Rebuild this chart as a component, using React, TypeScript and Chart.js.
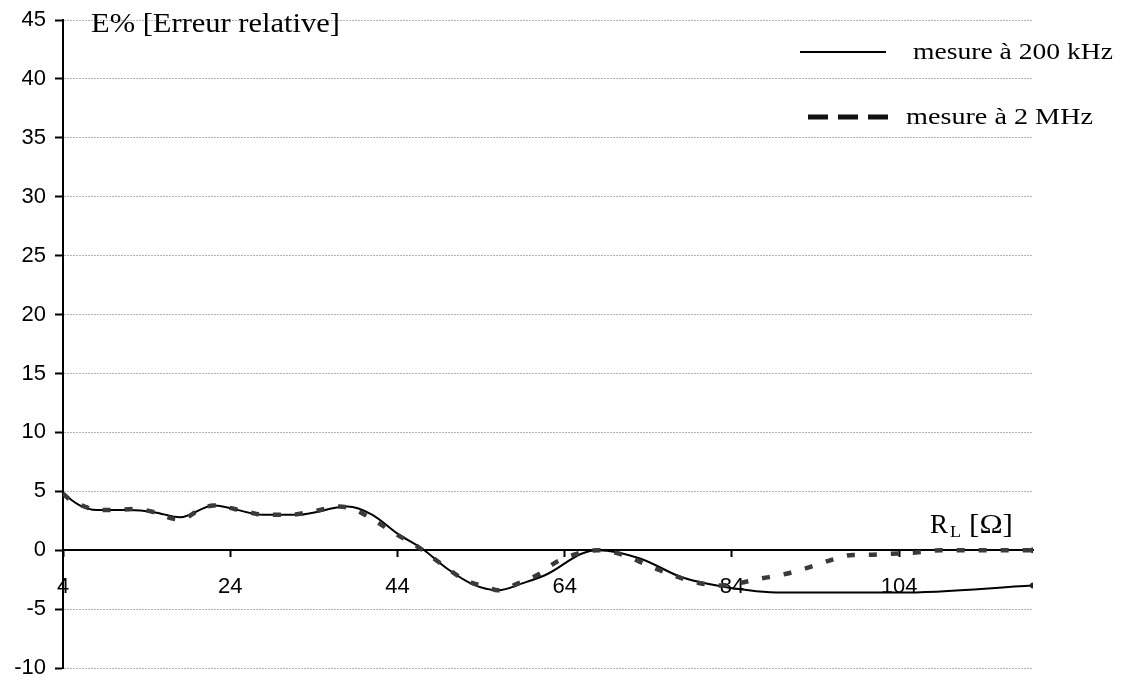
import React, { useEffect, useRef } from "react";
import { Chart, registerables } from "chart.js";

Chart.register(...registerables);

// R_L [Ω] values and relative error E% for the 200 kHz measurement
const r200 = [4, 6, 8, 12, 15, 18, 22, 28, 32, 38, 41, 44, 47, 50, 53, 56, 59, 62, 66, 68, 73, 78, 83, 90, 104, 120];
const e200 = [4.8, 3.8, 3.4, 3.4, 3.2, 2.8, 3.8, 3.0, 3.0, 3.7, 3.0, 1.4, 0.1, -1.6, -2.9, -3.4, -2.8, -2.0, -0.3, 0.0, -0.7, -2.3, -3.1, -3.6, -3.6, -3.0];

// R_L [Ω] values and relative error E% for the 2 MHz measurement
const r2M = [4, 5, 7, 8, 10, 12.5, 15, 17, 18, 20.5, 22, 24.5, 27, 28, 31, 34, 37, 39, 41.5, 44, 46.5, 49.5, 52, 55, 56, 58.5, 61, 63, 65.5, 68, 71, 74, 76.5, 79, 82.5, 87.5, 90.5, 93, 96, 98.5, 100, 103, 106, 109, 112, 115, 117.5, 120];
const e2M = [4.8, 4.2, 3.6, 3.4, 3.4, 3.5, 3.2, 2.7, 2.6, 3.5, 3.8, 3.5, 3.1, 3.0, 3.0, 3.3, 3.7, 3.4, 2.4, 1.3, 0.25, -1.3, -2.5, -3.2, -3.4, -2.8, -2.0, -1.0, -0.3, 0.0, -0.4, -1.3, -2.0, -2.6, -3.0, -2.4, -2.0, -1.5, -0.8, -0.4, -0.4, -0.3, -0.2, 0.0, 0.0, 0.0, 0.0, 0.0];

const xTickValues = [4, 24, 44, 64, 84, 104];
const seriesLabels = ["mesure à 200 kHz", "mesure à 2 MHz"];
const yTitle = "E% [Erreur relative]";
const xTitleMain = "R";
const xTitleSub = "L";
const xTitleUnit = "[Ω]";

const SERIF = "'Liberation Serif', 'Times New Roman', serif";
const SANS = "'Liberation Sans', Arial, sans-serif";

function drawFitText(ctx: CanvasRenderingContext2D, text: string, x: number, baseline: number, font: string, width: number) {
  ctx.save();
  ctx.font = font;
  ctx.textAlign = "left";
  ctx.textBaseline = "alphabetic";
  ctx.fillStyle = "#000";
  const w = ctx.measureText(text).width;
  ctx.translate(x, baseline);
  ctx.scale(width / w, 1);
  ctx.fillText(text, 0, 0);
  ctx.restore();
}

const annotationsPlugin = {
  id: "annotations",
  afterDraw(chart: any) {
    const ctx: CanvasRenderingContext2D = chart.ctx;
    // y-axis title
    drawFitText(ctx, yTitle, 91, 32, `27px ${SERIF}`, 249);
    // x-axis title
    drawFitText(ctx, xTitleMain, 930, 533, `27px ${SERIF}`, 18);
    drawFitText(ctx, xTitleSub, 950, 537, `17px ${SERIF}`, 11);
    drawFitText(ctx, xTitleUnit, 969, 533, `27px ${SERIF}`, 44);
    // legend
    ctx.save();
    ctx.strokeStyle = "#000";
    ctx.lineWidth = 2;
    ctx.beginPath();
    ctx.moveTo(800, 52);
    ctx.lineTo(886, 52);
    ctx.stroke();
    ctx.lineWidth = 5;
    ctx.strokeStyle = "#111";
    ctx.setLineDash([20, 10]);
    ctx.beginPath();
    ctx.moveTo(808, 117);
    ctx.lineTo(888, 117);
    ctx.stroke();
    ctx.restore();
    drawFitText(ctx, seriesLabels[0], 913, 59, `24px ${SERIF}`, 200);
    drawFitText(ctx, seriesLabels[1], 906, 124, `24px ${SERIF}`, 187);
  },
};

export default function App() {
  const canvasRef = useRef<HTMLCanvasElement | null>(null);

  useEffect(() => {
    const canvas = canvasRef.current;
    if (!canvas) return;
    const last2M = r2M.length - 1;
    const last200 = r200.length - 1;
    const chart = new Chart(canvas, {
      type: "line",
      data: {
        datasets: [
          {
            label: seriesLabels[1],
            data: r2M.map((x, i) => ({ x, y: e2M[i] })),
            borderColor: "#3a3a3a",
            backgroundColor: "#3a3a3a",
            borderWidth: 4.5,
            borderDash: [8, 14],
            cubicInterpolationMode: "monotone",
            pointRadius: (c: any) => (c.dataIndex === last2M ? 3 : 0),
            pointBorderWidth: 0,
            fill: false,
          },
          {
            label: seriesLabels[0],
            data: r200.map((x, i) => ({ x, y: e200[i] })),
            borderColor: "#000",
            backgroundColor: "#222",
            borderWidth: 2,
            cubicInterpolationMode: "monotone",
            pointRadius: (c: any) => (c.dataIndex === last200 ? 3 : 0),
            pointBorderWidth: 0,
            fill: false,
          },
        ],
      },
      options: {
        animation: false,
        responsive: false,
        devicePixelRatio: 1,
        layout: { padding: { top: 20, right: 88, bottom: 12, left: 0 } },
        plugins: { legend: { display: false }, tooltip: { enabled: false } },
        scales: {
          x: {
            type: "linear",
            min: 4,
            max: 120,
            position: { y: 0 } as any,
            afterBuildTicks: (scale: any) => {
              scale.ticks = xTickValues.map((v) => ({ value: v }));
            },
            afterFit: (scale: any) => {
              scale.paddingTop = 0;
              scale.paddingBottom = 0;
            },
            grid: {
              drawOnChartArea: false,
              drawTicks: true,
              tickLength: 6,
              tickColor: "#000",
              tickWidth: 2,
            },
            border: { display: true, color: "#000", width: 2 },
            ticks: {
              color: "#000",
              font: { family: SANS, size: 22 },
              padding: 18,
              maxRotation: 0,
              autoSkip: false,
              callback: (v: any) => String(v),
            },
          },
          y: {
            type: "linear",
            min: -10,
            max: 45,
            afterFit: (scale: any) => {
              scale.width = 63;
              scale.paddingTop = 0;
              scale.paddingBottom = 0;
            },
            grid: {
              color: "#b4b4b4",
              lineWidth: 1,
              drawTicks: true,
              tickLength: 8,
              tickColor: "#000",
              tickWidth: 2,
              tickBorderDash: [],
            },
            border: { display: true, color: "#000", width: 2, dash: [2, 1] },
            ticks: {
              stepSize: 5,
              color: "#000",
              font: { family: SANS, size: 22 },
              padding: 9,
            },
          },
        },
      },
      plugins: [annotationsPlugin],
    } as any);
    return () => chart.destroy();
  }, []);

  return (
    <div style={{ position: "absolute", left: 0, top: 0, width: 1121, height: 680, background: "#fff" }}>
      <canvas ref={canvasRef} width={1121} height={680} />
    </div>
  );
}
